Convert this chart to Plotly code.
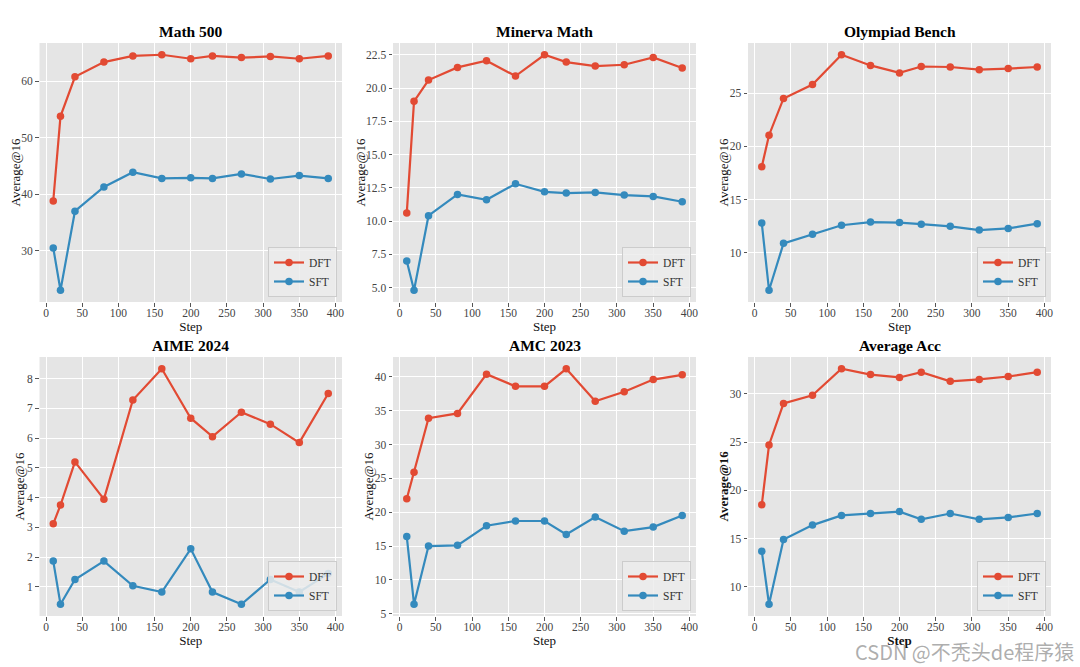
import plotly.graph_objects as go

steps = [10, 20, 40, 80, 120, 160, 200, 230, 270, 310, 350, 390]

titles = ["Math 500", "Minerva Math", "Olympiad Bench", "AIME 2024", "AMC 2023", "Average Acc"]

dft_math500 = [38.8, 53.8, 60.8, 63.4, 64.5, 64.7, 64.0, 64.5, 64.2, 64.4, 64.0, 64.5]
sft_math500 = [30.5, 23.0, 37.0, 41.3, 43.9, 42.8, 42.9, 42.8, 43.6, 42.7, 43.3, 42.8]

dft_minerva = [10.6, 19.0, 20.6, 21.55, 22.05, 20.9, 22.5, 21.95, 21.65, 21.75, 22.3, 21.5]
sft_minerva = [7.0, 4.8, 10.4, 12.0, 11.6, 12.8, 12.2, 12.1, 12.15, 11.95, 11.85, 11.45]

dft_olympiad = [18.1, 21.05, 24.5, 25.8, 28.6, 27.6, 26.9, 27.5, 27.45, 27.2, 27.3, 27.45]
sft_olympiad = [12.8, 6.5, 10.9, 11.75, 12.6, 12.9, 12.85, 12.7, 12.5, 12.15, 12.3, 12.75]

dft_aime = [3.12, 3.75, 5.2, 3.95, 7.28, 8.33, 6.67, 6.05, 6.87, 6.47, 5.85, 7.5]
sft_aime = [1.87, 0.42, 1.25, 1.87, 1.04, 0.83, 2.28, 0.83, 0.42, 1.25, 0.83, 1.45]

dft_amc = [22.0, 25.9, 33.9, 34.6, 40.4, 38.6, 38.6, 41.2, 36.4, 37.8, 39.6, 40.3]
sft_amc = [16.4, 6.4, 15.0, 15.1, 18.0, 18.7, 18.7, 16.7, 19.3, 17.2, 17.8, 19.5]

dft_avg = [18.5, 24.7, 29.0, 29.85, 32.6, 32.0, 31.7, 32.25, 31.3, 31.5, 31.8, 32.25]
sft_avg = [13.7, 8.2, 14.9, 16.4, 17.4, 17.6, 17.8, 17.0, 17.6, 17.0, 17.2, 17.6]

dft_series = [dft_math500, dft_minerva, dft_olympiad, dft_aime, dft_amc, dft_avg]
sft_series = [sft_math500, sft_minerva, sft_olympiad, sft_aime, sft_amc, sft_avg]
y_dticks = [10, 2.5, 5, 1, 5, 5]
x_ticks = [0, 50, 100, 150, 200, 250, 300, 350, 400]

RED = "#E24A33"
BLUE = "#348ABD"
FONT = "Liberation Serif"

W, H = 1080, 667
col_px = [(39.5, 342), (393, 696), (748, 1051)]
row_px = [(43, 302), (357, 616)]
ytitle_px = [15, 360, 723, 19, 368, 723]

fig = go.Figure()
annotations = []

for i in range(6):
    r, c = divmod(i, 3)
    n = i + 1
    xa = "x" if n == 1 else f"x{n}"
    ya = "y" if n == 1 else f"y{n}"
    lg = "legend" if n == 1 else f"legend{n}"
    for name, ys, color in (("DFT", dft_series[i], RED), ("SFT", sft_series[i], BLUE)):
        fig.add_trace(go.Scatter(
            x=steps, y=ys, name=name, mode="lines+markers",
            line=dict(color=color, width=2.2),
            marker=dict(color=color, size=7.5),
            xaxis=xa, yaxis=ya, legend=lg, showlegend=True,
        ))
    x0, x1 = col_px[c]
    y0, y1 = row_px[r]
    dom_x = [x0 / W, x1 / W]
    dom_y = [1 - y1 / H, 1 - y0 / H]
    allv = dft_series[i] + sft_series[i]
    lo, hi = min(allv), max(allv)
    pad = (hi - lo) * 0.05
    xpad = (max(steps) - min(steps)) * 0.05
    bold = (i == 5)
    lab_font = dict(family=FONT, size=13, color="#111")
    xkey = "xaxis" if n == 1 else f"xaxis{n}"
    ykey = "yaxis" if n == 1 else f"yaxis{n}"
    fig.layout[xkey] = dict(
        domain=dom_x, anchor=ya, range=[min(steps) - xpad, max(steps) + xpad],
        tickvals=x_ticks, showgrid=True, gridcolor="white", gridwidth=1,
        zeroline=False, showline=False, ticks="outside", ticklen=3.5,
        tickcolor="#555", tickfont=dict(family=FONT, size=11.5, color="#444"),
        ticklabelstandoff=-3,
        title=dict(text="<b>Step</b>" if bold else "Step", font=lab_font, standoff=1),
        automargin=False,
    )
    fig.layout[ykey] = dict(
        domain=dom_y, anchor=xa, range=[lo - pad, hi + pad],
        dtick=y_dticks[i], tick0=0, tickformat=".1f" if y_dticks[i] == 2.5 else "",
        showgrid=True, gridcolor="white", gridwidth=1,
        zeroline=False, showline=False, ticks="outside", ticklen=3.5,
        tickcolor="#555", tickfont=dict(family=FONT, size=11.5, color="#444"),
        automargin=False,
    )
    fig.layout[lg] = dict(
        x=(x1 - 5) / W, y=1 - (y1 - 5) / H, xanchor="right", yanchor="bottom",
        bgcolor="rgba(236,236,236,0.85)", bordercolor="#cccccc", borderwidth=1,
        font=dict(family=FONT, size=11.5, color="#333"),
        tracegroupgap=0, itemwidth=30,
    )
    annotations.append(dict(
        text=f"<b>{titles[i]}</b>", x=(x0 + x1) / 2 / W, y=1 - (y0 - 1) / H,
        xref="paper", yref="paper", xanchor="center", yanchor="bottom",
        showarrow=False, font=dict(family=FONT, size=15.5, color="black"),
    ))
    annotations.append(dict(
        text="<b>Average@16</b>" if bold else "Average@16",
        x=ytitle_px[i] / W, y=1 - (y0 + y1) / 2 / H, xref="paper", yref="paper",
        xanchor="center", yanchor="middle", textangle=-90, showarrow=False,
        font=lab_font,
    ))

annotations.append(dict(
    text="CSDN @不秃头de程序猿", x=1076 / W, y=1 - 651 / H, xref="paper", yref="paper",
    xanchor="right", yanchor="middle", showarrow=False,
    font=dict(family="Noto Sans CJK SC", size=20, color="rgba(160,160,160,0.85)"),
))

fig.update_layout(
    width=W, height=H, margin=dict(l=0, r=0, t=0, b=0, autoexpand=False),
    paper_bgcolor="white", plot_bgcolor="#E5E5E5",
    annotations=annotations,
)

fig.write_html("out.html", config={"displayModeBar": False},
               post_script="document.body.style.margin='0';")
